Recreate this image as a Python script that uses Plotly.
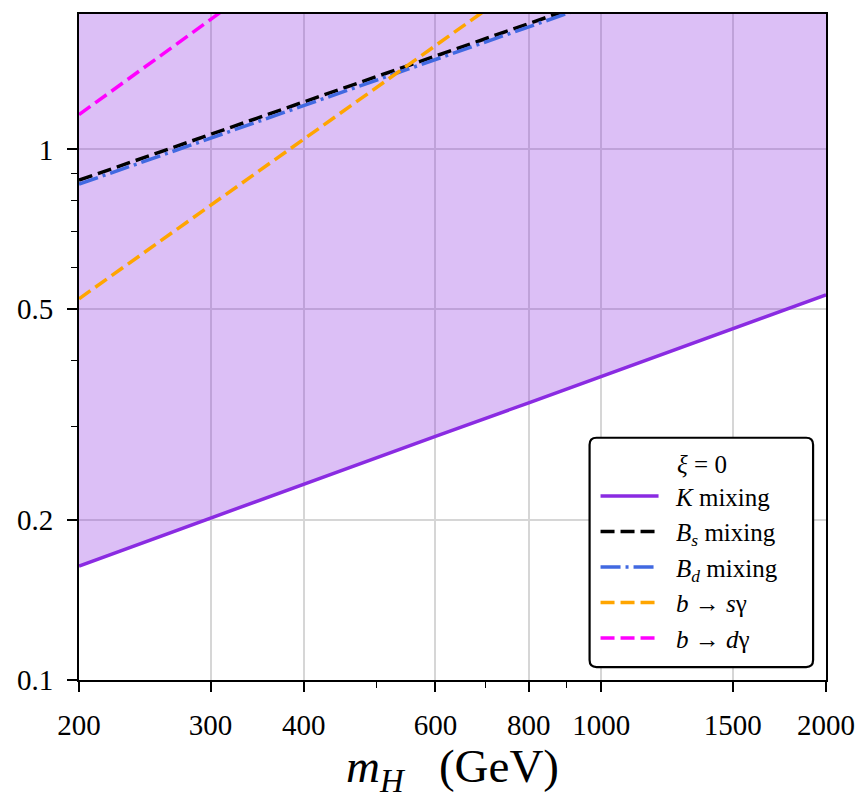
import plotly.graph_objects as go

# ---- data ----
mH = [200, 300, 400, 600, 800, 1000, 1500, 2000]
k_mixing = [0.164, 0.202, 0.234, 0.288, 0.333, 0.373, 0.459, 0.532]
bs_mixing = [0.875, 1.068, 1.228, 1.50, 1.73, 1.93, 2.35, 2.70]
bd_mixing = [0.860, 1.050, 1.207, 1.475, 1.70, 1.90, 2.31, 2.66]
b_s_gamma = [0.523, 0.785, 1.046, 1.57, 2.09, 2.62, 3.92, 5.23]
b_d_gamma = [1.163, 1.76, 2.36, 3.56, 4.77, 5.98, 9.0, 12.0]
top_fill = [10, 10, 10, 10, 10, 10, 10, 10]

x_ticks = [200, 300, 400, 600, 800, 1000, 1500, 2000]
x_minor = [500, 700, 900]
y_ticks = [0.1, 0.2, 0.5, 1]
y_ticklabels = ["0.1", "0.2", "0.5", "1"]
y_minor = [0.3, 0.4, 0.6, 0.7, 0.8, 0.9]

FONT = "Liberation Serif"
W, H = 867, 799
ML, MR, MT, MB = 79, 36, 12, 119
PW, PH = W - ML - MR, H - MT - MB
SP = "&nbsp;&nbsp;"

fig = go.Figure()
fig.add_trace(go.Scatter(x=mH, y=top_fill, mode="lines", line=dict(width=0),
                         showlegend=False, hoverinfo="skip"))
fig.add_trace(go.Scatter(x=mH, y=k_mixing, mode="lines", fill="tonexty",
                         fillcolor="rgba(138,43,226,0.3)", line=dict(width=0),
                         showlegend=False, hoverinfo="skip"))
fig.add_trace(go.Scatter(x=mH, y=k_mixing, mode="lines",
                         line=dict(color="#8A2BE2", width=3.5),
                         name=SP + "<i>K</i> mixing"))
fig.add_trace(go.Scatter(x=mH, y=bs_mixing, mode="lines",
                         line=dict(color="black", width=3.5, dash="14px,6px"),
                         name=SP + "<i>B<sub>s</sub></i> mixing"))
fig.add_trace(go.Scatter(x=mH, y=bd_mixing, mode="lines",
                         line=dict(color="#4169E1", width=3.5, dash="20px,5px,3px,5px"),
                         name=SP + "<i>B<sub>d</sub></i> mixing"))
fig.add_trace(go.Scatter(x=mH, y=b_s_gamma, mode="lines",
                         line=dict(color="#FFA500", width=3.5, dash="14px,6px"),
                         name=SP + "<i>b</i> → <i>s</i>γ"))
fig.add_trace(go.Scatter(x=mH, y=b_d_gamma, mode="lines",
                         line=dict(color="#FF00FF", width=3.5, dash="14px,6px"),
                         name=SP + "<i>b</i> → <i>d</i>γ"))

# rounded legend box (pixel -> paper)
def px2paper(xp, yp):
    return (xp - ML) / PW, (H - MB - yp) / PH

bx0, by0 = px2paper(593, 667)
bx1, by1 = px2paper(818, 437)
rx, ry = 7 / PW, 7 / PH
path = (f"M{bx0+rx},{by0} L{bx1-rx},{by0} Q{bx1},{by0} {bx1},{by0+ry} "
        f"L{bx1},{by1-ry} Q{bx1},{by1} {bx1-rx},{by1} "
        f"L{bx0+rx},{by1} Q{bx0},{by1} {bx0},{by1-ry} "
        f"L{bx0},{by0+ry} Q{bx0},{by0} {bx0+rx},{by0} Z")
fig.add_shape(type="path", path=path, xref="paper", yref="paper",
              fillcolor="white", line=dict(color="black", width=2.2), layer="above")

lx, ly = px2paper(599, 440)
fig.update_layout(
    width=W, height=H,
    margin=dict(l=ML, r=MR, t=MT, b=MB),
    plot_bgcolor="white", paper_bgcolor="white",
    font=dict(family=FONT, color="black"),
    legend=dict(x=lx, y=ly, xanchor="left", yanchor="top",
                bgcolor="rgba(0,0,0,0)", borderwidth=0, traceorder="normal",
                font=dict(family=FONT, size=25, color="black"),
                title=dict(text="&nbsp;&nbsp;&nbsp;&nbsp;<i>ξ</i> = 0", side="top center",
                           font=dict(family=FONT, size=25)),
                itemwidth=58, tracegroupgap=0),
    xaxis=dict(type="log", range=[2.30103, 3.30103],
               tickvals=x_ticks, ticktext=[str(v) for v in x_ticks],
               ticks="outside", ticklen=10, tickwidth=1.6, tickcolor="black",
               minor=dict(tickvals=x_minor, ticks="outside", ticklen=6,
                          tickwidth=1.2, tickcolor="black", showgrid=False),
               showgrid=True, gridcolor="#d6d6d6", gridwidth=1.5,
               showline=True, linecolor="black", linewidth=2, mirror=True,
               tickfont=dict(family=FONT, size=29),
               ticklabelstandoff=8,
               title=dict(text="<i>m<sub>H</sub></i>&nbsp;&nbsp;&nbsp;(GeV)",
                          font=dict(family=FONT, size=47), standoff=10)),
    yaxis=dict(type="log", range=[-1, 0.2553],
               tickvals=y_ticks, ticktext=y_ticklabels,
               ticks="outside", ticklen=10, tickwidth=1.6, tickcolor="black",
               minor=dict(tickvals=y_minor, ticks="outside", ticklen=6,
                          tickwidth=1.2, tickcolor="black", showgrid=False),
               showgrid=True, gridcolor="#d6d6d6", gridwidth=1.5,
               showline=True, linecolor="black", linewidth=2, mirror=True,
               tickfont=dict(family=FONT, size=29),
               ticklabelstandoff=8),
)

fig.write_html("out.html")
